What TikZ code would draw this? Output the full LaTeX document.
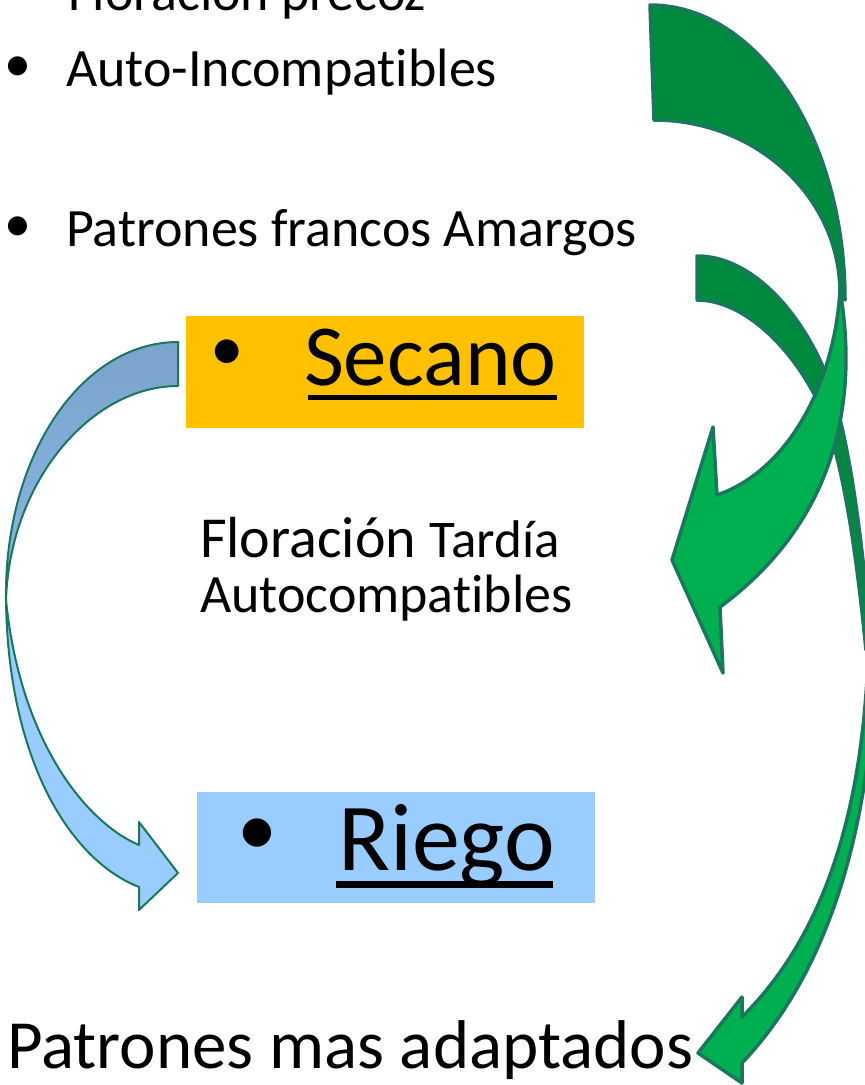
\documentclass[tikz,border=0pt]{standalone}
\usepackage{fontspec}
\setmainfont{Carlito}[RawFeature={-liga;-clig;-calt;-dlig;-hlig}]
\definecolor{outl}{RGB}{27,118,94}
\definecolor{gdark}{RGB}{0,138,62}
\definecolor{glight}{RGB}{0,176,80}
\definecolor{bdarktop}{RGB}{122,164,204}
\definecolor{bdarkbot}{RGB}{136,182,228}
\definecolor{blight}{RGB}{153,204,255}
\definecolor{secanoY}{RGB}{255,192,0}
\definecolor{riegoB}{RGB}{153,204,255}
\begin{document}
\begin{tikzpicture}[x=1pt,y=-1pt,
  txt/.style={anchor=base west, inner sep=0pt, outer sep=0pt, text=black},
  bul/.style={anchor=center, inner sep=0pt, outer sep=0pt, text=black},
  boxfill/.style={draw=none, inner sep=0pt, minimum width=398pt},
  barrow/.style={draw=outl, line width=2pt, line join=round},
  garrow/.style={draw=outl, line width=3.5pt, line join=round},
  uline/.style={line width=5pt, black}]
\useasboundingbox (0,0) rectangle (865,1085);
\clip (0,0) rectangle (865,1085);

% left curved arrow
\path[barrow, top color=bdarktop, bottom color=bdarkbot]
  (178,342) .. controls (82,342) and (4,455) .. (6,600)
  .. controls (10,480) and (92,386) .. (178,386) -- cycle;
\path[barrow, fill=blight]
  (6,600) .. controls (8,760) and (70,860) .. (139,887)
  -- (139,910) -- (178,873) -- (139,822) -- (139,845)
  .. controls (85,822) and (20,740) .. (6,600) -- cycle;

% boxes
\node (secano) [boxfill, fill=secanoY, minimum height=112pt] at (385,372) {};
\node (riego) [boxfill, fill=riegoB, minimum height=111pt] at (396,847.5) {};

% texts
\node (fp) [txt, font=\fontsize{54}{60}\selectfont] at (68,10) {Floración precoz};
\node (b1) [bul, font=\fontsize{54}{60}\selectfont] at (18,69) {•};
\node (ai) [txt, font=\fontsize{54}{60}\selectfont] at (66,86) {Auto-Incompat\kern0pt ibles};
\node (b2) [bul, font=\fontsize{54}{60}\selectfont] at (18,229) {•};
\node (pfa) [txt, font=\fontsize{54}{60}\selectfont] at (66,246) {Patrones francos Amargos};

\node (bs) [bul, font=\fontsize{67}{70}\selectfont] at (227,355) {•};
\node (sec) [txt, font=\fontsize{87}{90}\selectfont] at (304,385) {Secano};
\draw[uline] (308,397) -- (557,397);

\node (br) [bul, font=\fontsize{80}{90}\selectfont] at (257,837) {•};
\node (rie) [txt, font=\fontsize{96}{100}\selectfont] at (338,870) {Riego};
\draw[uline, line width=7pt] (336,884) -- (553,884);

\node (ft) [txt, font=\fontsize{58}{60}\selectfont] at (200,557) {Floración {\fontsize{53}{55}\selectfont Tardía}};
\node (ac) [txt, font=\fontsize{54}{60}\selectfont] at (200,612) {Autocompat\kern0pt ibles};
\node (pma) [txt, font=\fontsize{69}{75}\selectfont] at (7,1068) {Patrones mas adaptados};

% green arrows
\path[garrow, fill=gdark]
  (697,256) .. controls (760,256) and (815,330) .. (835,400)
  .. controls (852,460) and (862,540) .. (872,650) -- (866,650)
  .. controls (855,540) and (842,460) .. (822,410)
  .. controls (795,350) and (745,300) .. (697,300) -- cycle;
\path[garrow, fill=gdark]
  (650,5) .. controls (757.6,5) and (845,137) .. (845,300) -- (840,293)
  .. controls (840,197.5) and (756.7,120) .. (654,120) -- cycle;
\path[garrow, fill=glight]
  (840,290) .. controls (850,350) and (865,500) .. (720,607)
  -- (723,673) -- (672,560) -- (713,427) -- (717,495)
  .. controls (790,470) and (835,380) .. (840,290) -- cycle;
\path[garrow, fill=glight]
  (875,660) .. controls (872,800) and (840,960) .. (742,1063)
  -- (742,1083) -- (698,1053) -- (742,997) -- (742,1017)
  .. controls (830,930) and (862,800) .. (868,660) -- cycle;
\end{tikzpicture}
\end{document}
